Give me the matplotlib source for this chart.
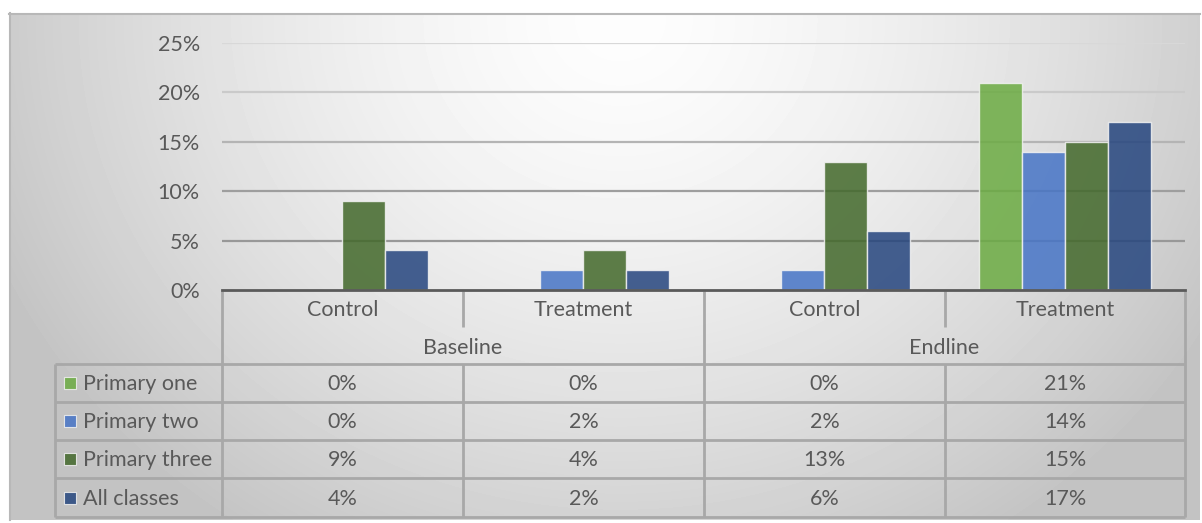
import matplotlib
matplotlib.use("Agg")
import matplotlib.pyplot as plt
import numpy as np
from matplotlib.patches import Rectangle

# ---- data ----
groups = ["Baseline", "Endline"]
arms = ["Control", "Treatment", "Control", "Treatment"]
series_names = ["Primary one", "Primary two", "Primary three", "All classes"]
primary_one = [0.00, 0.00, 0.00, 0.21]
primary_two = [0.00, 0.02, 0.02, 0.14]
primary_three = [0.09, 0.04, 0.13, 0.15]
all_classes = [0.04, 0.02, 0.06, 0.17]
y_ticks = [0.0, 0.05, 0.10, 0.15, 0.20, 0.25]

series = [primary_one, primary_two, primary_three, all_classes]
colors = ["#6bab42", "#4674c6", "#42682a", "#25457e"]
grid_colors = ["#5a5a5a", "#989898", "#9e9e9e", "#b4b4b4", "#cacaca", "#d8d8d8"]
text_color = "#595959"
line_color = "#a8a8a8"

plt.rcParams["font.family"] = ["Lato", "DejaVu Sans"]
FS = 15.5

W, H = 1202, 523
fig = plt.figure(figsize=(W / 100, H / 100), dpi=100)
fig.patch.set_facecolor("white")

# background layer in pixel coordinates
bg = fig.add_axes([0, 0, 1, 1])
bg.set_xlim(0, W)
bg.set_ylim(H, 0)
bg.axis("off")

# soft grey gradient, lightest along the top middle
yy, xx = np.mgrid[13:520, 9:1200]
t = np.sqrt(((xx - 620) / 620.0) ** 2 + ((yy - 20) / 560.0) ** 2)
shade = np.clip(253 - 50 * t ** 1.5, 196, 253) / 255.0
bg.imshow(shade, cmap="gray", vmin=0, vmax=1, extent=(9, 1200, 520, 13),
          aspect="auto", interpolation="bilinear", zorder=0)
bg.plot([9, 1200], [13.5, 13.5], color="#b8b8b8", lw=1.5, zorder=1)
bg.plot([9.5, 9.5], [13, 520], color="#b8b8b8", lw=1.5, zorder=1)

# plot area
x0, x1 = 222, 1185
y_zero, y_top = 290, 43
ax = fig.add_axes([x0 / W, (H - y_zero) / H, (x1 - x0) / W, (y_zero - y_top) / H])
ax.patch.set_alpha(0)
ax.set_xlim(-0.5, 3.5)
ax.set_ylim(0, 0.25)
for s in ax.spines.values():
    s.set_visible(False)
ax.set_xticks([])
ax.set_yticks(y_ticks)
ax.set_yticklabels([f"{v:.0%}" for v in y_ticks], fontsize=FS, color=text_color)
ax.tick_params(axis="y", length=0, pad=16)
for v, c in zip(y_ticks[1:], grid_colors[1:]):
    ax.axhline(v, color=c, lw=1.6, zorder=1)

bw = 43 / 241
x = np.arange(len(arms))
for i, (vals, col) in enumerate(zip(series, colors)):
    ax.bar(x + (i - 1.5) * bw, vals, bw, color=col, alpha=0.85,
           edgecolor="#f2f2f2", linewidth=1.0, zorder=2)
ax.axhline(0, color=grid_colors[0], lw=2.0, zorder=3, clip_on=False)

# data table
col_edges = [222, 463, 704, 945, 1185]
row_edges = [364, 402, 440, 478, 517]
lk = dict(color=line_color, lw=2, zorder=2, solid_capstyle="butt")
bg.plot([222, 222], [291, 517], **lk)
bg.plot([1185, 1185], [291, 517], **lk)
bg.plot([704, 704], [291, 517], **lk)
for cx in (463, 945):
    bg.plot([cx, cx], [291, 327], **lk)
    bg.plot([cx, cx], [364, 517], **lk)
bg.plot([55, 55], [364, 517], **lk)
for ry in row_edges:
    bg.plot([55, 1185], [ry, ry], **lk)

dy = 1.5  # nudge text to sit on the visual centre of each cell
for j, name in enumerate(arms):
    cx = (col_edges[j] + col_edges[j + 1]) / 2
    bg.text(cx, 308 + dy, name, ha="center", va="center", fontsize=FS, color=text_color)
for g, name in enumerate(groups):
    cx = (col_edges[2 * g] + col_edges[2 * g + 2]) / 2
    bg.text(cx, 346 + dy, name, ha="center", va="center", fontsize=FS, color=text_color)

for i, (name, vals, col) in enumerate(zip(series_names, series, colors)):
    cy = (row_edges[i] + row_edges[i + 1]) / 2
    bg.add_patch(Rectangle((64, cy - 6), 12, 12, facecolor=col, alpha=0.85,
                           edgecolor="#f0f0f0", lw=0.8, zorder=3))
    bg.text(83, cy + dy, name, ha="left", va="center", fontsize=FS, color=text_color)
    for j, v in enumerate(vals):
        cx = (col_edges[j] + col_edges[j + 1]) / 2
        bg.text(cx, cy + dy, f"{v:.0%}", ha="center", va="center", fontsize=FS,
                color=text_color)

fig.savefig("out.png", dpi=100, facecolor="white")
